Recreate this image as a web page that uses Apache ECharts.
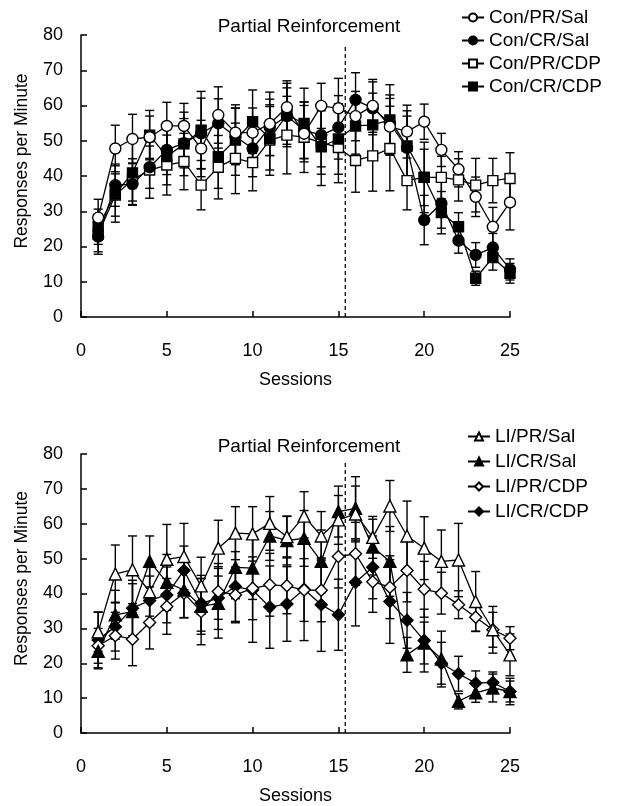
<!DOCTYPE html>
<html><head><meta charset="utf-8">
<script src="https://cdn.jsdelivr.net/npm/echarts@6/dist/echarts.min.js"></script>
<style>html,body{margin:0;padding:0;background:#fff}#c{width:624px;height:806px}</style>
</head><body><div id="c"></div><script>
const sessions = [1,2,3,4,5,6,7,8,9,10,11,12,13,14,15,16,17,18,19,20,21,22,23,24,25];
const xTicks = [0,5,10,15,20,25];
const yTicks = [0,10,20,30,40,50,60,70,80];
const phaseLabel = 'Partial Reinforcement';
const phaseBoundary = 15.4;
const xTitle = 'Sessions';
const yTitle = 'Responses per Minute';

// Top panel
const conPRSal      = [28.2,47.8,50.5,51.0,54.2,54.2,47.8,57.3,52.3,52.3,54.8,59.5,52.0,59.9,59.2,57.0,59.9,54.0,52.6,55.4,47.4,41.9,34.1,25.6,32.5];
const conPRSalErr   = [5.2,6.6,7,6,6.7,6.4,8,8,7,7,9,7.5,8,6.4,8.5,7,7.5,8,7.5,5,4.7,5,5.6,5.5,7.8];
const conCRSal      = [22.8,37.4,37.7,42.5,47.4,49.3,52.1,54.9,51.2,47.8,53.8,57.0,53.0,51.6,53.8,61.6,59.2,55.0,48.0,27.5,32.2,21.7,17.6,19.7,13.5];
const conCRSalErr   = [5,6,6,6,7,7,10,7,8,8,8,8,8,9,9,7.7,7.5,8,9,7,7,3.6,3.5,4,3];
const conPRCDP      = [23.5,34.6,38.9,41.7,43.1,44.1,37.4,42.5,45.0,43.8,50.2,51.6,51.0,49.5,48.1,44.4,45.7,47.8,38.7,39.6,39.6,38.9,37.4,38.7,39.3];
const conPRCDPErr   = [5,6,6,8,8.5,8,7,9,10,8,10,11,10,9,10,9,10,12,8.3,8,6,6,7.6,6.3,7.3];
const conCRCDP      = [25.6,34.9,40.9,51.6,45.5,49.1,53.0,45.5,50.2,55.4,50.7,57.3,54.9,48.3,50.5,54.2,54.5,55.9,48.5,39.6,29.6,25.6,11.0,16.9,12.4];
const conCRCDPErr   = [5,8,9,7,8,9,11,9,10,9,9,9,10,11,10,8,9,10,10,10,6,4,2,3.6,2.8];

// Bottom panel
const liPRSal       = [29.0,45.6,46.8,40.5,49.8,50.6,42.2,53.0,57.3,57.1,60.1,56.3,62.2,56.5,61.1,62.8,56.1,65.1,56.5,53.0,49.2,49.6,37.7,29.6,22.4];
const liPRSalErr    = [5.6,8.3,9.7,7,10,9.5,8.2,8,7.6,7.8,7.7,5.8,7,7,7,8,6,7.3,10,9,9,10.5,8.6,6.7,6];
const liCRSal       = [23.4,33.9,34.8,49.2,43.2,41.0,36.3,37.2,47.5,47.3,56.5,55.2,55.8,49.2,63.5,64.4,53.3,49.2,22.4,25.8,21.2,9.1,11.5,12.9,11.9];
const liCRSalErr    = [5,7,8,7.3,8,8,8,10,9,9,7,7,8,9,7.3,9.1,8,10,5,6,8,2.2,2.7,4,3.8];
const liPRCDP       = [25.0,27.9,26.9,31.7,36.3,40.1,34.8,40.6,39.6,41.5,42.5,42.2,41.0,40.9,50.6,51.4,43.4,41.8,46.6,41.2,40.1,36.8,33.2,29.6,27.2];
const liPRCDPErr    = [5,6.7,7.6,7.6,8,7,9.5,8,8,9,9,8,9,9,9,9,8.8,9,9,8,6,4,4,5,3.3];
const liCRCDP       = [26.7,30.5,35.8,38.0,39.6,46.6,37.2,38.7,42.0,41.0,36.1,37.0,41.2,36.8,33.9,43.2,47.5,37.7,32.3,26.5,20.0,17.0,14.3,14.5,11.9];
const liCRCDPErr    = [8,7,8,7,8,7,8,9,10,15,11.8,10.7,14.7,13.4,10.2,12.5,9,12,8,9,6,5,3.5,3,3];

const FONT = '"Liberation Sans", Arial, Helvetica, sans-serif';
const BLACK = '#000';

function pts(vals){ return vals.map((v,i)=>[sessions[i], v]); }
function errPts(vals, errs){ return vals.map((v,i)=>[sessions[i], v, errs[i]]); }

function errSeries(idx, vals, errs){
  return {
    type:'custom', xAxisIndex: idx, yAxisIndex: idx, silent:true, z:1, animation:false,
    data: errPts(vals, errs),
    encode:{x:0, y:1},
    renderItem: function(params, api){
      const x = api.value(0), y = api.value(1), e = api.value(2);
      const t = api.coord([x, y+e]), b = api.coord([x, y-e]);
      const w = 4.5, st = {stroke:BLACK, lineWidth:1.4};
      return {type:'group', children:[
        {type:'line', shape:{x1:t[0],y1:t[1],x2:b[0],y2:b[1]}, style:st},
        {type:'line', shape:{x1:t[0]-w,y1:t[1],x2:t[0]+w,y2:t[1]}, style:st},
        {type:'line', shape:{x1:b[0]-w,y1:b[1],x2:b[0]+w,y2:b[1]}, style:st}
      ]};
    }
  };
}
function lineSeries(idx, name, vals, symbol, size, filled){
  return {
    name, type:'line', xAxisIndex: idx, yAxisIndex: idx, data: pts(vals),
    symbol, symbolSize: size, showAllSymbol:true, animation:false, z:3,
    lineStyle:{color:BLACK, width:1.3},
    itemStyle:{color: filled ? BLACK : '#fff', borderColor:BLACK, borderWidth:1.4}
  };
}
function boundarySeries(idx, top){
  return {type:'line', xAxisIndex: idx, yAxisIndex: idx, data:[[phaseBoundary,0],[phaseBoundary,top]],
    symbol:'none', silent:true, animation:false, z:2,
    lineStyle:{color:BLACK, width:1.3, type:[4,3]}};
}
function xAxisCfg(idx){
  return {type:'value', gridIndex: idx, min:xTicks[0], max:xTicks[xTicks.length-1], interval:xTicks[1]-xTicks[0],
    axisLine:{show:true, onZero:false, lineStyle:{color:BLACK, width:1.5}},
    axisTick:{show:true, inside:true, length:6, lineStyle:{color:BLACK, width:1.5}},
    axisLabel:{margin:25, fontSize:18, color:BLACK, fontFamily:FONT},
    splitLine:{show:false},
    name:xTitle, nameLocation:'middle', nameGap:54,
    nameTextStyle:{fontSize:18, color:BLACK, fontFamily:FONT}};
}
function yAxisCfg(idx){
  return {type:'value', gridIndex: idx, min:yTicks[0], max:yTicks[yTicks.length-1], interval:yTicks[1]-yTicks[0],
    axisLine:{show:true, onZero:false, lineStyle:{color:BLACK, width:1.5}},
    axisTick:{show:true, inside:true, length:6, lineStyle:{color:BLACK, width:1.5}},
    axisLabel:{margin:18, fontSize:18, color:BLACK, fontFamily:FONT},
    splitLine:{show:false},
    name:yTitle, nameLocation:'middle', nameGap:50,
    nameTextStyle:{fontSize:17.5, color:BLACK, fontFamily:FONT, padding:[0,0,0,30]}};
}
function legendCfg(names, left, top, gap){
  return {data:names, orient:'vertical', left, top, itemWidth:22, itemHeight:10, itemGap:gap, padding:0,
    selectedMode:false, textStyle:{fontSize:19, color:BLACK, fontFamily:FONT}};
}

const topNames = ['Con/PR/Sal','Con/CR/Sal','Con/PR/CDP','Con/CR/CDP'];
const botNames = ['LI/PR/Sal','LI/CR/Sal','LI/PR/CDP','LI/CR/CDP'];

const chart = echarts.init(document.getElementById('c'), null, {renderer:'canvas'});
chart.setOption({
  backgroundColor:'#fff',
  animation:false,
  grid:[
    {left:81, top:35, width:429, height:282},
    {left:81, top:454, width:429, height:279}
  ],
  xAxis:[xAxisCfg(0), xAxisCfg(1)],
  yAxis:[yAxisCfg(0), yAxisCfg(1)],
  legend:[legendCfg(topNames, 461, 8, 4), legendCfg(botNames, 467, 427, 6)],
  graphic:[
    {type:'text', x:309, y:27, style:{text:phaseLabel, fontSize:19, fontFamily:FONT, fill:BLACK, align:'center', verticalAlign:'middle'}},
    {type:'text', x:309, y:447, style:{text:phaseLabel, fontSize:19, fontFamily:FONT, fill:BLACK, align:'center', verticalAlign:'middle'}}
  ],
  series:[
    boundarySeries(0, 77), boundarySeries(1, 78),
    errSeries(0, conPRSal, conPRSalErr), errSeries(0, conCRSal, conCRSalErr),
    errSeries(0, conPRCDP, conPRCDPErr), errSeries(0, conCRCDP, conCRCDPErr),
    errSeries(1, liPRSal, liPRSalErr), errSeries(1, liCRSal, liCRSalErr),
    errSeries(1, liPRCDP, liPRCDPErr), errSeries(1, liCRCDP, liCRCDPErr),
    lineSeries(0, topNames[2], conPRCDP, 'rect', 10, false),
    lineSeries(0, topNames[3], conCRCDP, 'rect', 10, true),
    lineSeries(0, topNames[1], conCRSal, 'circle', 11, true),
    lineSeries(0, topNames[0], conPRSal, 'circle', 11, false),
    lineSeries(1, botNames[3], liCRCDP, 'diamond', 12, true),
    lineSeries(1, botNames[2], liPRCDP, 'diamond', 12, false),
    lineSeries(1, botNames[1], liCRSal, 'triangle', 12, true),
    lineSeries(1, botNames[0], liPRSal, 'triangle', 12, false)
  ]
});
</script></body></html>
